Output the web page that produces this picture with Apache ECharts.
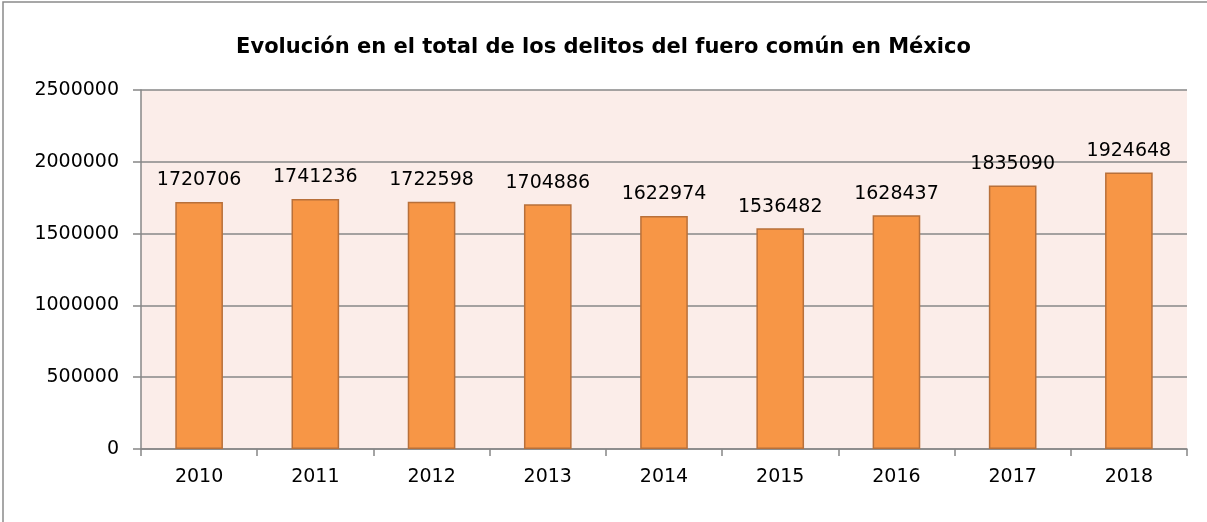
<!DOCTYPE html>
<html>
<head>
<meta charset="utf-8">
<script src="https://cdn.jsdelivr.net/npm/echarts@6/dist/echarts.min.js"></script>
<style>
    html, body { margin: 0; padding: 0; background: #ffffff; }
    #chart { width: 1207px; height: 522px; }
</style>
</head>
<body>
<div id="chart"></div>
<script>
    // datos
    var years = ['2010', '2011', '2012', '2013', '2014', '2015', '2016', '2017', '2018'];
    var delitos = [1720706, 1741236, 1722598, 1704886, 1622974, 1536482, 1628437, 1835090, 1924648];
    var yTicks = [0, 500000, 1000000, 1500000, 2000000, 2500000];

    window.addEventListener('load', function () {
        let chart = echarts.init(document.getElementById('chart'));
        let font = 'DejaVu Sans';
        let option = {
            backgroundColor: '#ffffff',
            animation: false,
            title: {
                text: 'Evolución en el total de los delitos del fuero común en México',
                left: 'center',
                top: 32,
                textStyle: {
                    fontFamily: font,
                    fontSize: 21,
                    fontWeight: 'bold',
                    color: '#000000'
                }
            },
            graphic: [{
                type: 'rect',
                z: -1,
                shape: { x: 3, y: 2, width: 1300, height: 600 },
                style: { fill: 'none', stroke: '#8a8a8a', lineWidth: 1.5 }
            }],
            grid: {
                left: 141,
                right: 20,
                top: 90,
                bottom: 73,
                show: true,
                backgroundColor: '#fbede9',
                borderWidth: 0
            },
            xAxis: {
                type: 'category',
                data: years,
                axisLine: { lineStyle: { color: '#878787', width: 1.5 } },
                axisTick: { show: true, length: 7, lineStyle: { color: '#878787', width: 1.5 } },
                axisLabel: {
                    margin: 19,
                    fontFamily: font,
                    fontSize: 19,
                    color: '#000000'
                }
            },
            yAxis: {
                type: 'value',
                min: yTicks[0],
                max: yTicks[yTicks.length - 1],
                interval: 500000,
                axisLine: { show: true, lineStyle: { color: '#878787', width: 1.5 } },
                axisTick: { show: true, length: 8, lineStyle: { color: '#878787', width: 1.5 } },
                splitLine: { lineStyle: { color: '#878787', width: 1.5 } },
                axisLabel: {
                    margin: 22,
                    fontFamily: font,
                    fontSize: 19,
                    color: '#000000',
                    formatter: function (v) { return String(v); }
                }
            },
            series: [{
                type: 'bar',
                data: delitos,
                barWidth: '41%',
                itemStyle: {
                    color: '#f79646',
                    borderColor: '#b8703a',
                    borderWidth: 1.5
                },
                label: {
                    show: true,
                    position: 'top',
                    distance: 12,
                    fontFamily: font,
                    fontSize: 19,
                    color: '#000000'
                }
            }]
        };
        chart.setOption(option);
    }, false);
</script>
</body>
</html>
